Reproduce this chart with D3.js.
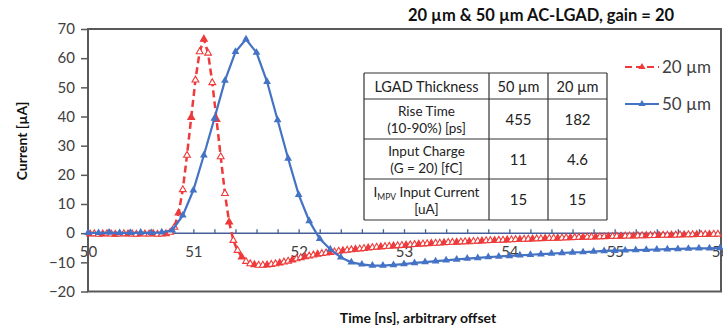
<!DOCTYPE html>
<html>
<head>
<meta charset="utf-8">
<script src="https://cdn.jsdelivr.net/npm/d3@7"></script>
<style>
  body { margin: 0; background: #fff; }
  svg { display: block; font-family: Lato, "Open Sans", sans-serif; }
</style>
</head>
<body>
<svg id="chart" width="723" height="325"></svg>
<script>
// 50 µm sensor, sampled every 100 ps
const blueTime = [
  50.0, 50.1, 50.2, 50.3, 50.4, 50.5, 50.6, 50.7, 50.8, 50.9,
  51.0, 51.1, 51.2, 51.3, 51.4, 51.5, 51.6, 51.7, 51.8, 51.9,
  52.0, 52.1, 52.2, 52.3, 52.4, 52.5, 52.6, 52.7, 52.8, 52.9,
  53.0, 53.1, 53.2, 53.3, 53.4, 53.5, 53.6, 53.7, 53.8, 53.9,
  54.0, 54.1, 54.2, 54.3, 54.4, 54.5, 54.6, 54.7, 54.8, 54.9,
  55.0, 55.1, 55.2, 55.3, 55.4, 55.5, 55.6, 55.7, 55.8, 55.9,
  56.0
];
const blueCurrent = [
  0.1, 0.1, 0.2, 0.1, 0.1, 0.2, 0.1, 0.3, 1.0, 6.1,
  14.7, 26.7, 39.3, 52.3, 62.2, 66.5, 61.9, 51.9, 38.8, 25.6,
  13.2, 4.2, -1.9, -5.5, -8.3, -10.0, -10.7, -11.1, -11.1, -10.9,
  -10.6, -10.2, -9.9, -9.6, -9.3, -9.0, -8.7, -8.5, -8.2, -8.0,
  -7.8, -7.6, -7.4, -7.2, -7.0, -6.8, -6.6, -6.5, -6.3, -6.1,
  -6.0, -5.9, -5.8, -5.7, -5.6, -5.5, -5.4, -5.3, -5.2, -5.2,
  -5.1
];

// 20 µm sensor, sampled every 40 ps
const redTime = [
  50.02, 50.06, 50.10, 50.14, 50.18, 50.22, 50.26, 50.30, 50.34, 50.38,
  50.42, 50.46, 50.50, 50.54, 50.58, 50.62, 50.66, 50.70, 50.74, 50.78,
  50.82, 50.86, 50.90, 50.94, 50.98, 51.02, 51.06, 51.10, 51.14, 51.18,
  51.22, 51.26, 51.30, 51.34, 51.38, 51.42, 51.46, 51.50, 51.54, 51.58,
  51.62, 51.66, 51.70, 51.74, 51.78, 51.82, 51.86, 51.90, 51.94, 51.98,
  52.02, 52.06, 52.10, 52.14, 52.18, 52.22, 52.26, 52.30, 52.34, 52.38,
  52.42, 52.46, 52.50, 52.54, 52.58, 52.62, 52.66, 52.70, 52.74, 52.78,
  52.82, 52.86, 52.90, 52.94, 52.98, 53.02, 53.06, 53.10, 53.14, 53.18,
  53.22, 53.26, 53.30, 53.34, 53.38, 53.42, 53.46, 53.50, 53.54, 53.58,
  53.62, 53.66, 53.70, 53.74, 53.78, 53.82, 53.86, 53.90, 53.94, 53.98,
  54.02, 54.06, 54.10, 54.14, 54.18, 54.22, 54.26, 54.30, 54.34, 54.38,
  54.42, 54.46, 54.50, 54.54, 54.58, 54.62, 54.66, 54.70, 54.74, 54.78,
  54.82, 54.86, 54.90, 54.94, 54.98, 55.02, 55.06, 55.10, 55.14, 55.18,
  55.22, 55.26, 55.30, 55.34, 55.38, 55.42, 55.46, 55.50, 55.54, 55.58,
  55.62, 55.66, 55.70, 55.74, 55.78, 55.82, 55.86, 55.90, 55.94, 55.98
];
const redCurrent = [
  -0.3, -0.2, -0.4, -0.3, -0.2, -0.3, -0.4, -0.3, -0.2, -0.3,
  -0.3, -0.4, -0.2, -0.3, -0.3, -0.2, -0.4, -0.3, -0.2, 0.3,
  2.0, 6.9, 14.9, 26.7, 39.7, 52.5, 62.2, 66.5, 61.7, 51.6,
  39.0, 26.2, 13.6, 3.8, -2.5, -5.9, -8.2, -9.7, -10.5, -10.8,
  -11.0, -11.0, -10.9, -10.7, -10.5, -10.2, -9.9, -9.6, -9.2, -8.8,
  -8.4, -8.1, -7.8, -7.5, -7.2, -7.0, -6.8, -6.6, -6.4, -6.2,
  -6.0, -5.85, -5.7, -5.55, -5.4, -5.25, -5.1, -4.95, -4.8, -4.7,
  -4.6, -4.5, -4.4, -4.3, -4.2, -4.1, -4.0, -3.9, -3.8, -3.7,
  -3.6, -3.5, -3.45, -3.4, -3.3, -3.2, -3.15, -3.1, -3.0, -2.95,
  -2.9, -2.8, -2.75, -2.7, -2.6, -2.55, -2.5, -2.45, -2.4, -2.3,
  -2.25, -2.2, -2.15, -2.1, -2.05, -2.0, -1.95, -1.9, -1.85, -1.8,
  -1.75, -1.7, -1.65, -1.6, -1.55, -1.5, -1.45, -1.4, -1.36, -1.32,
  -1.28, -1.24, -1.2, -1.16, -1.12, -1.08, -1.04, -1.0, -0.97, -0.94,
  -0.91, -0.88, -0.85, -0.82, -0.79, -0.76, -0.73, -0.7, -0.67, -0.64,
  -0.61, -0.58, -0.55, -0.52, -0.49, -0.46, -0.43, -0.4, -0.37, -0.34
];

const xTicks = [50, 51, 52, 53, 54, 55, 56];
const xMinorTicks = [
  50.2, 50.4, 50.6, 50.8, 51, 51.2, 51.4, 51.6, 51.8, 52, 52.2, 52.4, 52.6, 52.8, 53,
  53.2, 53.4, 53.6, 53.8, 54, 54.2, 54.4, 54.6, 54.8, 55, 55.2, 55.4, 55.6, 55.8
];
const yTicks = [-20, -10, 0, 10, 20, 30, 40, 50, 60, 70];

const seriesNames = ['20 µm', '50 µm'];
const tableHeader = ['LGAD Thickness', '50 µm', '20 µm'];
const tableLabels = [
  ['Rise Time', '(10-90%) [ps]'],
  ['Input Charge', '(G = 20) [fC]'],
  ['I|MPV| Input Current', '[uA]']
];
const table50 = ['455', '11', '15'];
const table20 = ['182', '4.6', '15'];

const svg = d3.select('#chart');
const m = { left: 88, right: 721, top: 29, bottom: 291.5 };
const red = '#ee3a3a', blue = '#4472c4', gray = '#595959';

const x = d3.scaleLinear().domain([50, 56]).range([m.left, 720]);
const y = d3.scaleLinear().domain([-20, 70]).range([m.bottom, m.top]);

// y axis
const yAxis = svg.append('g')
  .attr('transform', `translate(${m.left},0)`)
  .call(d3.axisLeft(y).tickValues(yTicks).tickSize(7).tickPadding(6));
yAxis.select('.domain').remove();
yAxis.selectAll('line').attr('stroke', gray).attr('stroke-width', 1.5);
yAxis.selectAll('text').attr('fill', '#404040').style('font-size', '15px').style('font-family', 'Lato');

// zero line with minor ticks pointing up
const zeroAxis = svg.append('g')
  .attr('transform', `translate(0,${y(0)})`)
  .call(d3.axisTop(x).tickValues(xMinorTicks).tickSize(4).tickFormat(''));
zeroAxis.select('.domain').remove();
zeroAxis.selectAll('line').attr('stroke', '#44609a').attr('stroke-width', 1.3);
svg.append('line')
  .attr('x1', m.left).attr('x2', m.right)
  .attr('y1', y(0)).attr('y2', y(0))
  .attr('stroke', '#44609a').attr('stroke-width', 1.5);

// the last label (56) sits on the right edge and is clipped, as in the original
const xLabels = svg.append('g')
  .attr('transform', `translate(0,${y(0)})`)
  .call(d3.axisBottom(x).tickValues(xTicks).tickSize(0).tickPadding(13).tickFormat(d3.format('d')));
xLabels.select('.domain').remove();
xLabels.selectAll('text').attr('fill', '#404040').style('font-size', '15px').style('font-family', 'Lato');

// frame
svg.append('rect')
  .attr('x', m.left).attr('y', m.top)
  .attr('width', m.right - m.left).attr('height', m.bottom - m.top)
  .attr('fill', 'none').attr('stroke', gray).attr('stroke-width', 2);

const line = d3.line().x(d => x(d[0])).y(d => y(d[1]));
const tri = d3.symbol(d3.symbolTriangle);
const redData = redTime.map((t, i) => [t, redCurrent[i]]);
const blueData = blueTime.map((t, i) => [t, blueCurrent[i]]);

// 20 µm series
svg.append('path').datum(redData)
  .attr('d', line).attr('fill', 'none')
  .attr('stroke', red).attr('stroke-width', 2.5).attr('stroke-dasharray', '7,4');
svg.append('g').selectAll('path').data(redData).join('path')
  .attr('transform', d => `translate(${x(d[0])},${y(d[1])})`)
  .attr('d', tri.size(20))
  .attr('fill', (d, i) => i % 3 === 0 ? red : '#fff')
  .attr('stroke', red).attr('stroke-width', 1.1);

// 50 µm series
svg.append('path').datum(blueData)
  .attr('d', line).attr('fill', 'none')
  .attr('stroke', blue).attr('stroke-width', 2.2);
svg.append('g').selectAll('path').data(blueData).join('path')
  .attr('transform', d => `translate(${x(d[0])},${y(d[1])})`)
  .attr('d', tri.size(26))
  .attr('fill', blue);

// title and axis titles
svg.append('text')
  .attr('x', 541).attr('y', 21).attr('text-anchor', 'middle')
  .style('font-size', '16.5px').style('font-weight', 'bold').attr('fill', '#111')
  .text('20 µm & 50 µm AC-LGAD, gain = 20');
svg.append('text')
  .attr('x', 418).attr('y', 323).attr('text-anchor', 'middle')
  .style('font-size', '14px').style('font-weight', 'bold').attr('fill', '#111')
  .text('Time [ns], arbitrary offset');
svg.append('text')
  .attr('transform', 'translate(27,141) rotate(-90)').attr('text-anchor', 'middle')
  .style('font-size', '14px').style('font-weight', 'bold').attr('fill', '#111')
  .text('Current [µA]');

// legend
const legend = svg.append('g');
[[red, '7,4', 67, 0], [blue, null, 104, 1]].forEach(([c, dash, ly, i]) => {
  legend.append('line')
    .attr('x1', 625).attr('x2', 659).attr('y1', ly).attr('y2', ly)
    .attr('stroke', c).attr('stroke-width', 2.2).attr('stroke-dasharray', dash);
  legend.append('path')
    .attr('transform', `translate(642,${ly})`)
    .attr('d', tri.size(22)).attr('fill', c);
  legend.append('text')
    .attr('x', 662).attr('y', ly + 6)
    .style('font-size', '17px').attr('fill', '#404040')
    .text(seriesNames[i]);
});

// table
const cols = [364, 489, 548, 607];
const rowsY = [73, 99, 139, 179, 220];
const tbl = svg.append('g');
tbl.append('rect')
  .attr('x', cols[0]).attr('y', rowsY[0])
  .attr('width', cols[3] - cols[0]).attr('height', rowsY[4] - rowsY[0])
  .attr('fill', '#fff');
rowsY.forEach(ry => tbl.append('line')
  .attr('x1', cols[0]).attr('x2', cols[3]).attr('y1', ry).attr('y2', ry)
  .attr('stroke', '#333').attr('stroke-width', 1.2));
cols.forEach(cx => tbl.append('line')
  .attr('x1', cx).attr('x2', cx).attr('y1', rowsY[0]).attr('y2', rowsY[4])
  .attr('stroke', '#333').attr('stroke-width', 1.2));

const mid = i => (cols[i] + cols[i + 1]) / 2;
tableHeader.forEach((h, i) => tbl.append('text')
  .attr('x', mid(i)).attr('y', 91.5).attr('text-anchor', 'middle')
  .style('font-size', '14.5px').attr('fill', '#222').text(h));

tableLabels.forEach((lines, r) => {
  const cy = (rowsY[r + 1] + rowsY[r + 2]) / 2;
  lines.forEach((ln, k) => {
    const t = tbl.append('text')
      .attr('x', mid(0)).attr('y', cy - 3 + k * 17).attr('text-anchor', 'middle')
      .style('font-size', '13.5px').attr('fill', '#222');
    const parts = ln.split('|');
    parts.forEach((p, j) => {
      const ts = t.append('tspan').text(p);
      if (j === 1) ts.style('font-size', '8.5px').attr('dy', 3);
      if (j === 2) ts.attr('dy', -3);
    });
  });
  tbl.append('text').attr('x', mid(1)).attr('y', cy + 5.5).attr('text-anchor', 'middle')
    .style('font-size', '15px').attr('fill', '#222').text(table50[r]);
  tbl.append('text').attr('x', mid(2)).attr('y', cy + 5.5).attr('text-anchor', 'middle')
    .style('font-size', '15px').attr('fill', '#222').text(table20[r]);
});
</script>
</body>
</html>
